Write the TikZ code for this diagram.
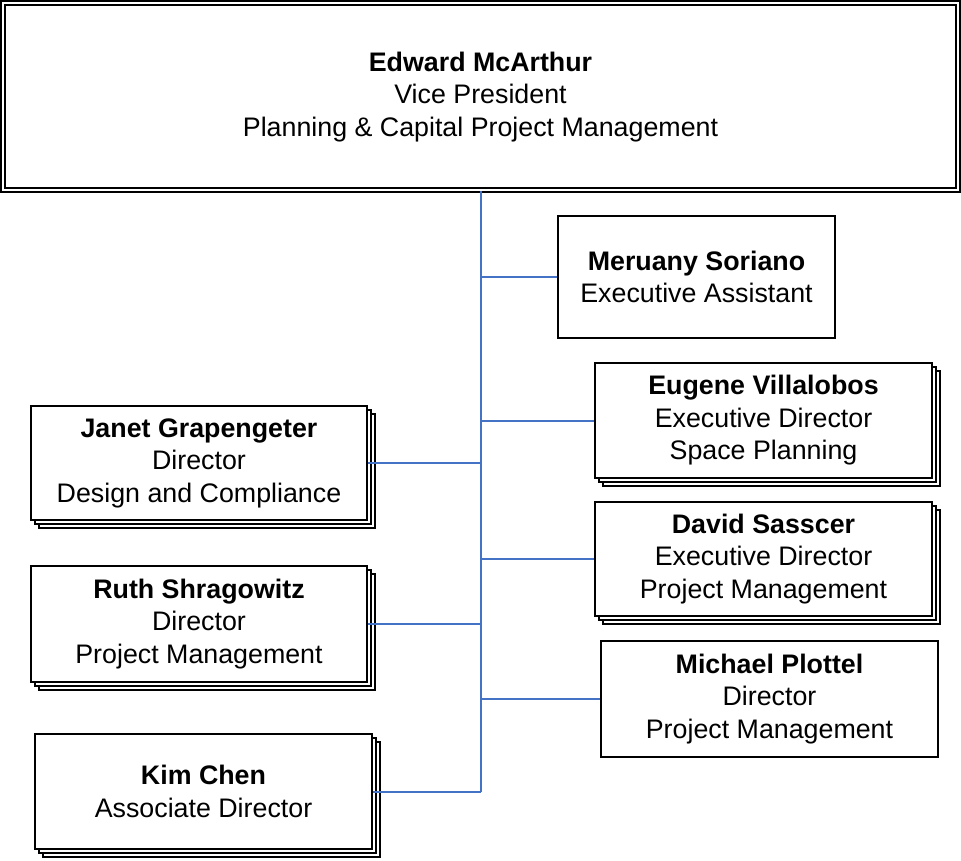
\documentclass[tikz,border=0pt]{standalone}
\usepackage{fontspec}
\setmainfont{Liberation Sans}
\usepackage{tikz}
\usetikzlibrary{positioning, shadows}

\definecolor{linkblue}{HTML}{4472C4}

\tikzset{
    person/.style={draw, line width=1.5pt, fill=white, align=center, inner sep=0pt,
        font=\fontsize{26.8}{32.5}\selectfont},
    stacked/.style={person,
        general shadow={shadow xshift=8pt, shadow yshift=-8pt, draw, line width=1.5pt, fill=white},
        general shadow={shadow xshift=4pt, shadow yshift=-4pt, draw, line width=1.5pt, fill=white}},
    link/.style={draw=linkblue, line width=2pt}
}

\begin{document}
\begin{tikzpicture}[x=1pt, y=-1pt]
    \useasboundingbox (0,0) rectangle (961,861);
    % top box, double border
    \node[person, double, line width=1.7pt, double distance=2.3pt, minimum width=954.5pt, minimum height=187pt]
        (vp) at (480.5,96.75) {\textbf{Edward McArthur}\\Vice President\\Planning \& Capital Project Management};
    % right side
    \node[person, minimum width=277pt, minimum height=122pt]
        (mer) at (696.5,277) {\textbf{Meruany Soriano}\\Executive Assistant};
    \node[stacked, minimum width=337pt, minimum height=115pt]
        (eug) at (763.5,420.5) {\textbf{Eugene Villalobos}\\Executive Director\\Space Planning};
    \node[stacked, minimum width=337pt, minimum height=114pt]
        (dav) at (763.5,559) {\textbf{David Sasscer}\\Executive Director\\Project Management};
    \node[person, minimum width=337pt, minimum height=116pt]
        (mic) at (769.5,699) {\textbf{Michael Plottel}\\Director\\Project Management};
    % left side
    \node[stacked, minimum width=336pt, minimum height=114pt]
        (jan) at (199,463) {\textbf{Janet Grapengeter}\\Director\\Design and Compliance};
    \node[stacked, minimum width=336pt, minimum height=116pt]
        (rut) at (199,624) {\textbf{Ruth Shragowitz}\\Director\\Project Management};
    \node[stacked, minimum width=337pt, minimum height=115pt]
        (kim) at (203.5,791.5) {\textbf{Kim Chen}\\Associate Director};

    % trunk and branches
    \draw[link] (vp.south) -- (vp.south |- kim.east);
    \foreach \n in {mer, eug, dav, mic}
        \draw[link] (\n.west) -- (\n.west -| vp.south);
    \foreach \n in {jan, rut, kim}
        \draw[link] (\n.east) -- (\n.east -| vp.south);
\end{tikzpicture}
\end{document}
